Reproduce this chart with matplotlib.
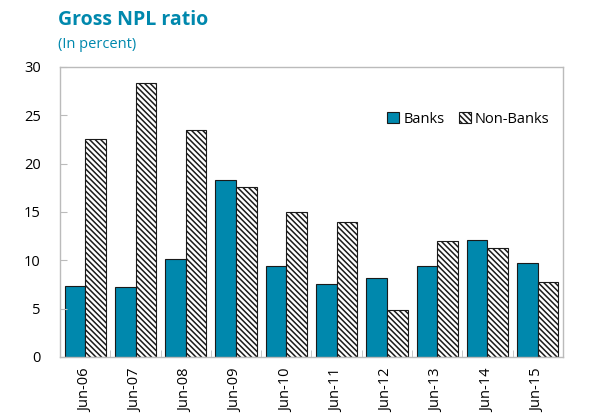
import matplotlib
matplotlib.use("Agg")
import matplotlib.pyplot as plt
import numpy as np

plt.rcParams['font.family'] = ['Open Sans', 'DejaVu Sans']
plt.rcParams['hatch.color'] = '#666666'
plt.rcParams['hatch.linewidth'] = 1.1

categories = ['Jun-06', 'Jun-07', 'Jun-08', 'Jun-09', 'Jun-10',
              'Jun-11', 'Jun-12', 'Jun-13', 'Jun-14', 'Jun-15']
banks = [7.3, 7.2, 10.1, 18.3, 9.4, 7.5, 8.2, 9.4, 12.1, 9.7]
non_banks = [22.5, 28.3, 23.5, 17.6, 15.0, 14.0, 4.9, 12.0, 11.3, 7.8]

teal = '#0088ad'
fig = plt.figure(figsize=(5.95, 4.18), dpi=100)
ax = fig.add_axes([0.101, 0.146, 0.845, 0.694])

x = np.arange(len(categories))
w = 0.41
ax.bar(x - w/2, banks, w, color=teal, edgecolor='#1a1a1a', linewidth=0.8, label='Banks')
ax.bar(x + w/2, non_banks, w, color='white', edgecolor='#1a1a1a', linewidth=0.8,
       hatch='\\' * 6, label='Non-Banks')

ax.set_xlim(-0.5, len(categories) - 0.5)
ax.set_ylim(0, 30)
ax.set_yticks([0, 5, 10, 15, 20, 25, 30])
ax.set_xticks(x)
ax.set_xticklabels(categories, rotation=90, fontsize=10.5)
ax.set_xticks(np.arange(0.5, len(categories) - 0.5, 1), minor=True)
ax.tick_params(axis='x', which='major', length=0, pad=8)
ax.tick_params(axis='x', which='minor', direction='in', length=5, color='#bbbbbb')
ax.tick_params(axis='y', direction='in', length=5, color='#bbbbbb', labelsize=10.5, pad=14)
for s in ax.spines.values():
    s.set_color('#bbbbbb')
    s.set_linewidth(1.0)

leg = ax.legend(loc='upper right', bbox_to_anchor=(1.0, 0.89), frameon=False,
                ncol=2, fontsize=10.5, handlelength=0.8, handleheight=0.8,
                handletextpad=0.3, columnspacing=1.0)

fig.text(0.097, 0.952, 'Gross NPL ratio', fontsize=14, fontweight='bold',
         color=teal, ha='left', va='center')
fig.text(0.097, 0.893, '(In percent)', fontsize=10.5, color=teal, ha='left', va='center')

fig.savefig('out.png', dpi=100)
